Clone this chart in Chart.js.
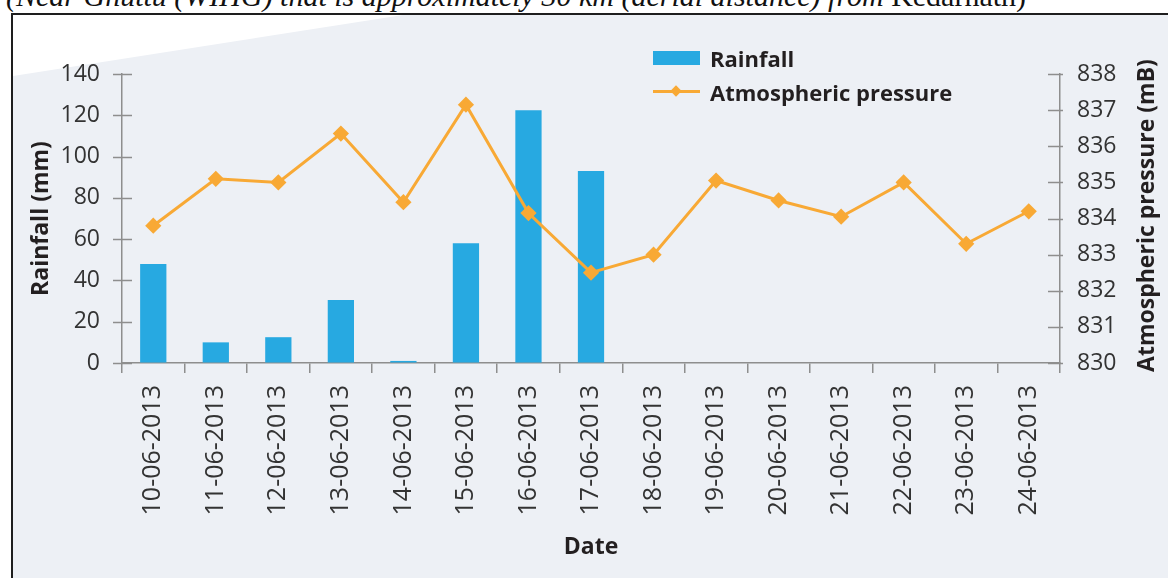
<!DOCTYPE html>
<html>
<head>
<meta charset="utf-8">
<script src="https://cdn.jsdelivr.net/npm/chart.js@4"></script>
<style>
  html, body { margin: 0; padding: 0; background: #fff; }
  body { width: 1168px; height: 578px; position: relative; overflow: hidden; }
  .caption {
    position: absolute; left: 6px; top: -19px; white-space: nowrap;
    font: italic 30px 'Liberation Serif', serif; color: #111; line-height: 30px;
  }
  .caption span { font-style: normal; }
  .box {
    position: absolute; left: 11px; top: 13px; width: 1180px; height: 600px;
    border: 2px solid #1e1e1e; background: #edf0f5;
  }
  .curl {
    position: absolute; left: 13px; top: 15px; width: 420px; height: 70px;
    background: #fff; clip-path: polygon(0 0, 390px 0, 0 61px);
  }
  #wrap { position: absolute; left: 0; top: 0; width: 1168px; height: 578px; }
  .legend { position: absolute; left: 653px; top: 41px; font: bold 22px 'Open Sans', sans-serif; color: #231f20; }
  .legend .row { display: flex; align-items: center; height: 34px; }
  .legend .mark { width: 47px; height: 34px; position: relative; margin-right: 10px; }
  .legend .swatch { position: absolute; left: 0; top: 10px; width: 47px; height: 14px; }
  .legend .ln { position: absolute; left: 0; top: 15px; width: 47px; height: 3px; }
  .legend .dot { position: absolute; left: 19px; top: 12px; width: 8px; height: 8px; transform: rotate(45deg); }
</style>
</head>
<body>
<div class="caption">(Near Ghuttu (WIHG) that is approximately 30 km (aerial distance) from <span>Kedarnath)</span></div>
<div class="box"></div>
<div class="curl"></div>
<div id="wrap"><canvas id="chart" width="1168" height="578"></canvas></div>
<div class="legend" id="legend"></div>
<script>
const dates = ['10-06-2013', '11-06-2013', '12-06-2013', '13-06-2013', '14-06-2013',
  '15-06-2013', '16-06-2013', '17-06-2013', '18-06-2013', '19-06-2013',
  '20-06-2013', '21-06-2013', '22-06-2013', '23-06-2013', '24-06-2013'];
const rainfall = [48, 10, 12.5, 30.5, 1, 58, 122.5, 93, 0, 0, 0, 0, 0, 0, 0];
const pressure = [833.8, 835.1, 835.0, 836.35, 834.45, 837.15, 834.15, 832.5, 833.0,
  835.05, 834.5, 834.05, 835.0, 833.3, 834.2];
const rightTitle = 'Atmospheric pressure (mB)';

const blue = '#27a9e1';
const orange = '#f8a935';
const axisGrey = '#8e8e8e';
const tickFont = { family: 'Open Sans', size: 23 };
const xTickFont = { family: 'Open Sans', size: 25 };
const titleFont = { family: 'Open Sans', size: 23, weight: 'bold' };

// kleine streepjes dwars over de y-assen + titel rechts (leest van onder naar boven)
const crossTicks = {
  id: 'crossTicks',
  afterDraw(chart) {
    const ctx = chart.ctx;
    ctx.save();
    ctx.strokeStyle = axisGrey;
    ctx.lineWidth = 1.5;
    const left = chart.scales.y;
    left.ticks.forEach(t => {
      const py = Math.round(left.getPixelForValue(t.value)) + 0.5;
      ctx.beginPath(); ctx.moveTo(left.right - 9, py); ctx.lineTo(left.right + 10, py); ctx.stroke();
    });
    const right = chart.scales.y1;
    right.ticks.forEach(t => {
      const py = Math.round(right.getPixelForValue(t.value)) + 0.5;
      ctx.beginPath(); ctx.moveTo(right.left - 12, py); ctx.lineTo(right.left + 3, py); ctx.stroke();
    });
    const area = chart.chartArea;
    ctx.translate(right.right - 21, (area.top + area.bottom) / 2 - 3);
    ctx.rotate(-Math.PI / 2);
    ctx.fillStyle = '#231f20';
    ctx.font = 'bold 23px "Open Sans"';
    ctx.textAlign = 'center';
    ctx.textBaseline = 'middle';
    ctx.fillText(rightTitle, 0, 0);
    ctx.restore();
  }
};

const chart = new Chart(document.getElementById('chart'), {
  data: {
    labels: dates,
    datasets: [{
      type: 'line',
      label: 'Atmospheric pressure',
      data: pressure,
      yAxisID: 'y1',
      borderColor: orange,
      backgroundColor: orange,
      borderWidth: 3,
      pointStyle: 'rectRot',
      pointRadius: 6,
      pointHoverRadius: 6,
      tension: 0,
      order: 1
    }, {
      type: 'bar',
      label: 'Rainfall',
      data: rainfall,
      yAxisID: 'y',
      backgroundColor: blue,
      barPercentage: 0.42,
      categoryPercentage: 1,
      order: 2
    }]
  },
  options: {
    responsive: false,
    animation: false,
    layout: { padding: { left: 0, right: 0, top: 74, bottom: 0 } },
    plugins: { legend: { display: false }, tooltip: { enabled: false } },
    scales: {
      x: {
        offset: true,
        grid: { offset: true, drawOnChartArea: false, color: axisGrey, lineWidth: 1.5, tickLength: 10 },
        border: { color: axisGrey, width: 1.5 },
        ticks: { minRotation: 90, maxRotation: 90, padding: 12, color: '#333', font: xTickFont, autoSkip: false },
        title: { display: true, text: 'Date', color: '#231f20', font: titleFont, padding: { top: 0, bottom: 17 } },
        afterFit(scale) { scale.height = 215; }
      },
      y: {
        position: 'left',
        min: 0, max: 140,
        grid: { drawOnChartArea: false, drawTicks: false },
        border: { color: axisGrey, width: 1.5 },
        ticks: { stepSize: 20, padding: 22, color: '#333', font: tickFont },
        title: { display: true, text: 'Rainfall (mm)', color: '#231f20', font: titleFont, padding: { top: 28, bottom: 0 } },
        afterFit(scale) { scale.width = 122; }
      },
      y1: {
        position: 'right',
        min: 830, max: 838,
        grid: { drawOnChartArea: false, drawTicks: false },
        border: { color: axisGrey, width: 1.5 },
        ticks: { stepSize: 1, padding: 17, color: '#333', font: tickFont },
        title: { display: false },
        afterFit(scale) { scale.width = 108; }
      }
    }
  },
  plugins: [crossTicks]
});

// legende in html, volgorde zoals in het origineel
const legend = document.getElementById('legend');
[chart.data.datasets[1], chart.data.datasets[0]].forEach(ds => {
  const row = document.createElement('div');
  row.className = 'row';
  const mark = ds.type === 'bar'
    ? `<div class="mark"><div class="swatch" style="background:${ds.backgroundColor}"></div></div>`
    : `<div class="mark"><div class="ln" style="background:${ds.borderColor}"></div><div class="dot" style="background:${ds.borderColor}"></div></div>`;
  row.innerHTML = mark + `<span>${ds.label}</span>`;
  legend.appendChild(row);
});
</script>
</body>
</html>
